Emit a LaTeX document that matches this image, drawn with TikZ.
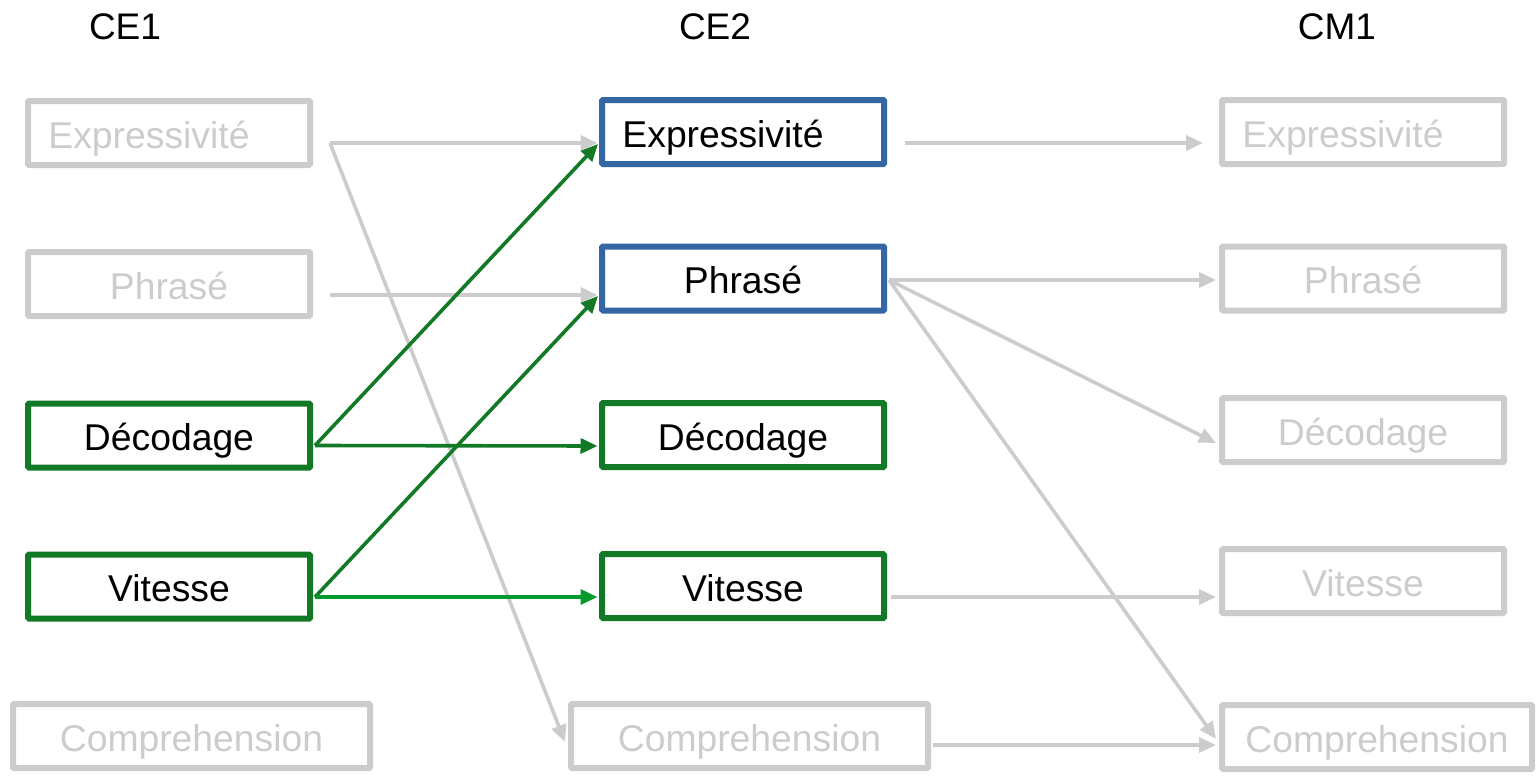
\documentclass[tikz,border=0pt]{standalone}
\usepackage{fontspec}
\setmainfont{Liberation Sans}
\usetikzlibrary{arrows.meta,calc}
\definecolor{lgrey}{HTML}{CCCCCC}
\definecolor{bblue}{HTML}{3465A4}
\definecolor{dgreen}{HTML}{127A27}
\definecolor{bgreen}{HTML}{069A2E}
\tikzset{
  box/.style={draw, rectangle, line width=6pt, minimum height=64pt, inner sep=0pt,
     font=\fontsize{37.3}{44}\selectfont, text height=36pt, text depth=6pt, rounded corners=1pt},
  smallbox/.style={box, minimum width=282pt},
  greybox/.style={smallbox, draw=lgrey, text=lgrey},
  bluebox/.style={smallbox, draw=bblue, text=black},
  greenbox/.style={smallbox, draw=dgreen, text=black},
  title/.style={font=\fontsize{37}{44}\selectfont, text=black},
  conn/.style={line width=3.6pt, -{Triangle[length=17pt,width=15pt]}},
  greyconn/.style={conn, draw=lgrey, fill=lgrey},
  greenconn/.style={conn, draw=dgreen, fill=dgreen},
  bgreenconn/.style={conn, draw=bgreen, fill=bgreen},
}
\begin{document}
\begin{tikzpicture}[x=1pt,y=-1pt]
\useasboundingbox (0,0) rectangle (1537,776);
% titles
\node[title] (t1) at (125,27) {CE1};
\node[title] (t2) at (715,27) {CE2};
\node[title] (t3) at (1337,27) {CM1};
% CE1
\node[greybox] (e1) at (169,133) {\hspace*{-40pt}Expressivité};
\node[greybox] (p1) at (169,284) {Phrasé};
\node[greenbox] (d1) at (169,435.5) {Décodage};
\node[greenbox] (v1) at (169,586.5) {Vitesse};
\node[box, draw=lgrey, text=lgrey, minimum width=357pt] (c1) at (191.5,736) {Comprehension};
% CE2
\node[bluebox] (e2) at (743,132) {\hspace*{-40pt}Expressivité};
\node[bluebox] (p2) at (743,278.5) {Phrasé};
\node[greenbox] (d2) at (743,435) {Décodage};
\node[greenbox] (v2) at (743,586) {Vitesse};
\node[box, draw=lgrey, text=lgrey, minimum width=357pt] (c2) at (749.5,736) {Comprehension};
% CM1
\node[greybox] (e3) at (1363,132) {\hspace*{-40pt}Expressivité};
\node[greybox] (p3) at (1363,278.5) {Phrasé};
\node[greybox] (d3) at (1363,430) {Décodage};
\node[greybox] (v3) at (1363,581) {Vitesse};
\node[box, draw=lgrey, text=lgrey, minimum width=310pt] (c3) at (1377,737) {Comprehension};
% grey connectors CE1 -> CE2
\draw[greyconn] ($(e1.east)+(17,10)$) -- ($(e2.west)+(-1.5,11)$);
\draw[greyconn] ($(e1.east)+(17,10)$) -- ($(c2.west)+(-3,6)$);
\draw[greyconn] ($(p1.east)+(17,11)$) -- ($(p2.west)+(-1.5,16.5)$);
% green connectors CE1 -> CE2
\draw[greenconn] ($(d1.east)+(2,10)$) -- ($(e2.west)+(-1,12)$);
\draw[greenconn] ($(d1.east)+(2,10)$) -- ($(d2.west)+(-1.5,11)$);
\draw[greenconn] ($(v1.east)+(2,10.5)$) -- ($(p2.west)+(-1,17.5)$);
\draw[bgreenconn] ($(v1.east)+(2,10.5)$) -- ($(v2.west)+(-1.5,11)$);
% grey connectors CE2 -> CM1
\draw[greyconn] ($(e2.east)+(18,11)$) -- ($(e3.west)+(-16,11)$);
\draw[greyconn] ($(p2.east)+(2,1.5)$) -- ($(p3.west)+(-3,1.5)$);
\draw[greyconn] ($(p2.east)+(2,1.5)$) -- ($(d3.west)+(-3,13)$);
\draw[greyconn] ($(p2.east)+(2,1.5)$) -- ($(c3.west)+(-3,2)$);
\draw[greyconn] ($(v2.east)+(4,11)$) -- ($(v3.west)+(-3,16)$);
\draw[greyconn] ($(c2.east)+(2,9)$) -- ($(c3.west)+(-3,8)$);
\end{tikzpicture}
\end{document}
